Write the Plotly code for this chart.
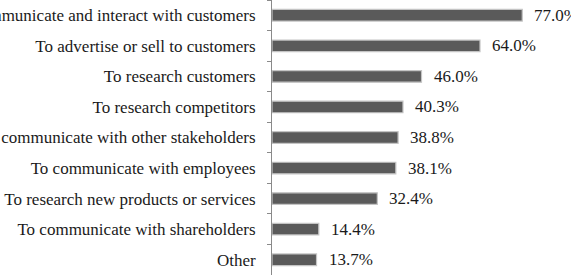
import plotly.graph_objects as go

categories = [
    "To communicate and interact with customers",
    "To advertise or sell to customers",
    "To research customers",
    "To research competitors",
    "To communicate with other stakeholders",
    "To communicate with employees",
    "To research new products or services",
    "To communicate with shareholders",
    "Other",
]
values = [77.0, 64.0, 46.0, 40.3, 38.8, 38.1, 32.4, 14.4, 13.7]
value_labels = ["77.0%", "64.0%", "46.0%", "40.3%", "38.8%", "38.1%", "32.4%", "14.4%", "13.7%"]

FONT = "Liberation Serif, Times New Roman, serif"
FS = 17

fig = go.Figure()
fig.add_trace(go.Bar(
    y=categories,
    x=values,
    orientation="h",
    marker=dict(color="#5a5a5a", line=dict(color="#c4c4c4", width=1.2)),
    width=0.38,
    hoverinfo="skip",
))

for c, v, t in zip(categories, values, value_labels):
    fig.add_annotation(
        x=v, y=c, text=t, showarrow=False, xanchor="left", yanchor="middle",
        xshift=10, font=dict(family=FONT, size=FS, color="#1a1a1a"),
    )

fig.update_layout(
    width=571, height=280,
    margin=dict(l=272, r=0, t=0, b=5, autoexpand=False),
    plot_bgcolor="white", paper_bgcolor="white",
    showlegend=False,
    font=dict(family=FONT, size=FS, color="#1a1a1a"),
)
fig.update_xaxes(range=[0, 92], visible=False, showgrid=False)
fig.update_yaxes(
    autorange="reversed",
    showline=True, linecolor="#8a8a8a", linewidth=1,
    ticks="outside", tickson="boundaries", ticklen=4, tickcolor="#8a8a8a",
    showgrid=False, automargin=False,
    ticklabelstandoff=12,
    tickfont=dict(family=FONT, size=FS, color="#1a1a1a"),
)

fig.write_html("out.html")
